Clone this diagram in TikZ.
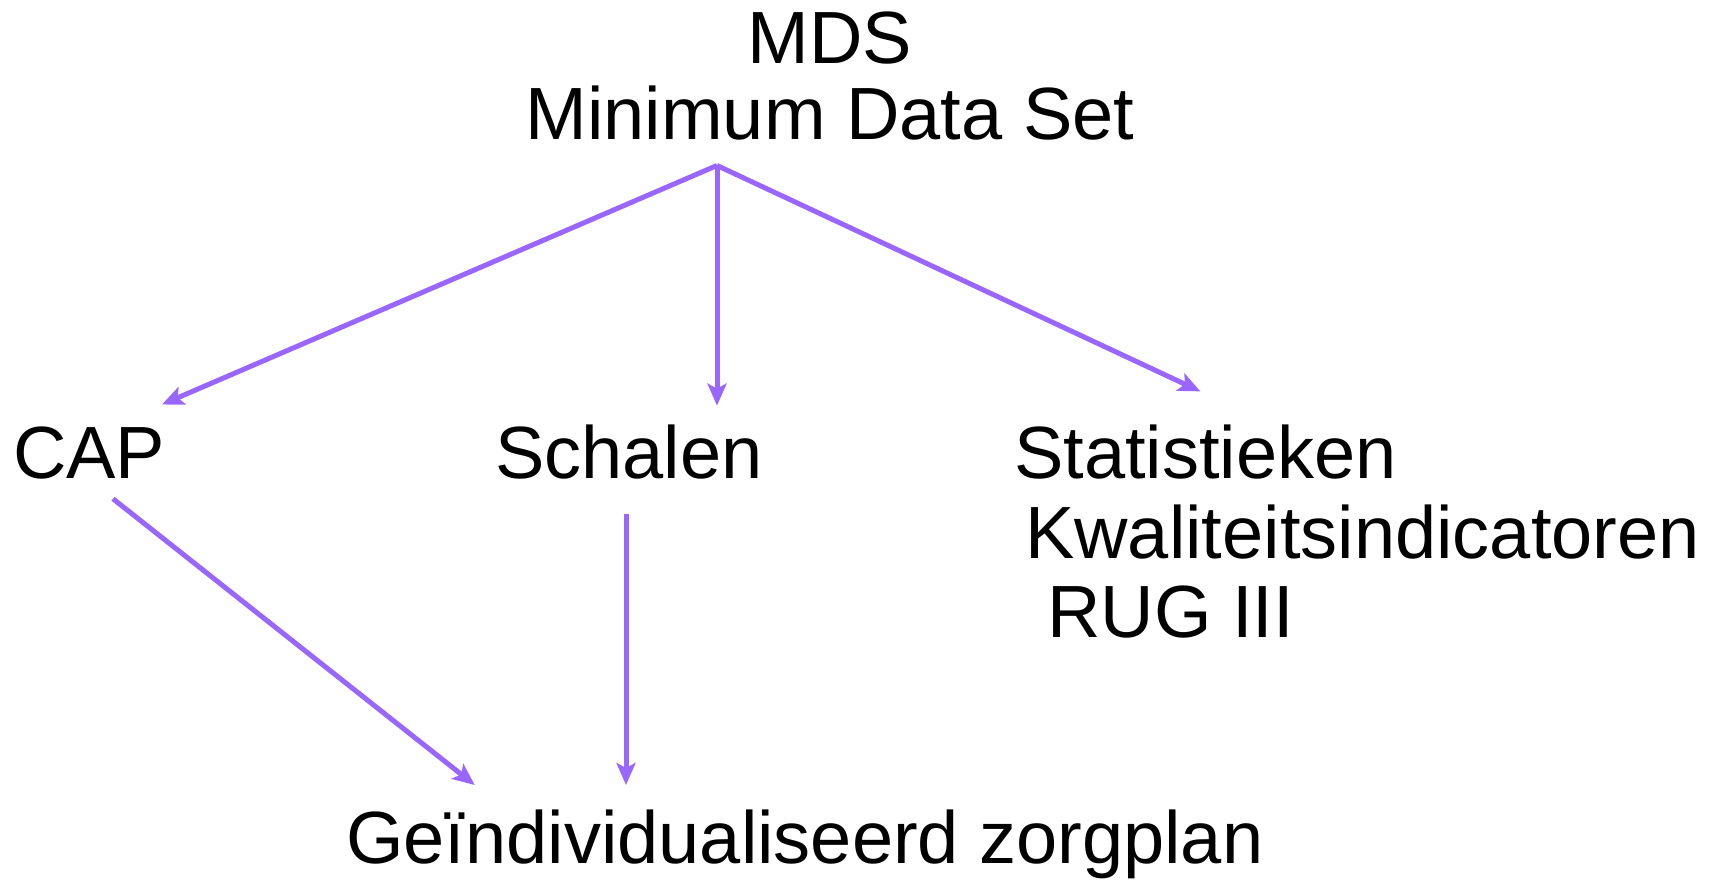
\documentclass[tikz,border=0pt]{standalone}
\usepackage{fontspec}
\setmainfont{Liberation Sans}
\usetikzlibrary{arrows.meta}
\definecolor{arr}{HTML}{9966FF}
\begin{document}
\begin{tikzpicture}[x=1pt,y=1pt,
  lbl/.style={inner sep=0pt,anchor=base west,font=\fontsize{74}{84}\selectfont},
  conn/.style={draw=arr,line width=5pt,-{Stealth[length=22pt,width=19pt,inset=5pt]}}]
\useasboundingbox (0,0) rectangle (1719,879);
\node[lbl,anchor=base] (mds) at (830,879-63.6) {MDS};
\node[lbl,anchor=base] (mdsname) at (830,879-140) {Minimum Data Set};
\node[lbl] (cap) at (13,879-479) {CAP};
\node[lbl] (sch) at (495,879-479) {Schalen};
\node[lbl] (stat) at (1014,879-479) {Statistieken};
\node[lbl] (kwal) at (1025,879-559) {Kwaliteitsindicatoren};
\node[lbl] (rug) at (1047,879-638) {RUG III};
\node[lbl] (zorg) at (346,879-863) {Geïndividualiseerd zorgplan};
\coordinate (top) at (717,879-165.5);
\coordinate (capin) at (162,879-404.5);
\coordinate (schin) at (717,879-405.6);
\coordinate (statin) at (1200.4,879-391.4);
\coordinate (capout) at (113,879-498.8);
\coordinate (zorgin1) at (474.7,879-785);
\coordinate (schout) at (626,879-514);
\coordinate (zorgin2) at (626,879-785);
\draw[conn] (top) -- (capin);
\draw[conn] (top) -- (schin);
\draw[conn] (top) -- (statin);
\draw[conn] (capout) -- (zorgin1);
\draw[conn] (schout) -- (zorgin2);
\end{tikzpicture}
\end{document}
